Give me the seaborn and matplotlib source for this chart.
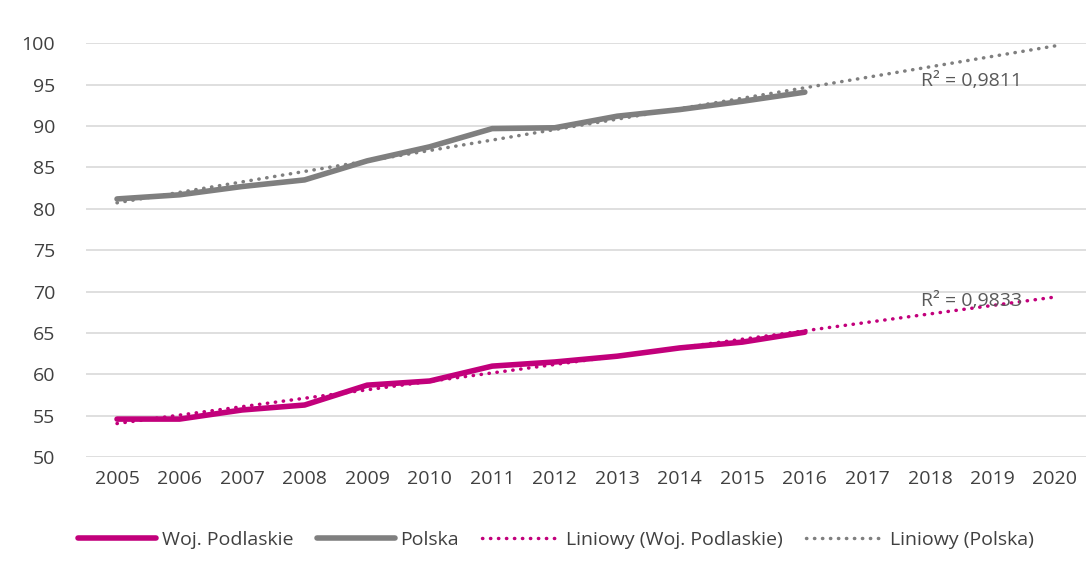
import numpy as np
import pandas as pd
import matplotlib
matplotlib.use("Agg")
import matplotlib.pyplot as plt
import seaborn as sns

years = list(range(2005, 2017))
all_years = list(range(2005, 2021))
podlaskie = [54.6, 54.6, 55.7, 56.3, 58.7, 59.2, 61.0, 61.5, 62.2, 63.2, 63.9, 65.1]
polska = [81.2, 81.7, 82.7, 83.5, 85.8, 87.5, 89.7, 89.8, 91.2, 92.0, 93.0, 94.1]
yticks = list(range(50, 101, 5))
r2_labels = ["R² = 0,9811", "R² = 0,9833"]

magenta = "#C2007B"
grey = "#7F7F7F"

sns.set_theme(style="white")
plt.rcParams['font.family'] = ['Open Sans', 'DejaVu Sans']

fig = plt.figure(figsize=(10.91, 5.63), dpi=100)
ax = fig.add_axes([0.0786, 0.188, 0.917, 0.735])

df = pd.DataFrame({"year": years, "Woj. Podlaskie": podlaskie, "Polska": polska})

def trend(vals):
    c = np.polyfit(years, vals, 1)
    return np.polyval(c, all_years)

tr_pod = trend(podlaskie)
tr_pol = trend(polska)
tdf = pd.DataFrame({"year": all_years, "tp": tr_pod, "tq": tr_pol})

dot = (0, (0.1, 2.2))
sns.lineplot(data=df, x="year", y="Woj. Podlaskie", ax=ax, color=magenta, lw=4, label="Woj. Podlaskie", solid_capstyle="round")
sns.lineplot(data=df, x="year", y="Polska", ax=ax, color=grey, lw=4, label="Polska", solid_capstyle="round")
sns.lineplot(data=tdf, x="year", y="tp", ax=ax, color=magenta, lw=2.5, linestyle=dot, dash_capstyle="round", label="Liniowy (Woj. Podlaskie)")
sns.lineplot(data=tdf, x="year", y="tq", ax=ax, color=grey, lw=2.5, linestyle=dot, dash_capstyle="round", label="Liniowy (Polska)")

ax.set_xlim(2004.5, 2020.5)
ax.set_ylim(50, 100)
ax.set_yticks(yticks)
ax.set_xticks(all_years)
ax.set_xticklabels([str(y) for y in all_years])
ax.tick_params(axis="both", labelsize=14, colors="#404040", length=0)
ax.tick_params(axis="y", pad=22)
ax.tick_params(axis="x", pad=9)
ax.yaxis.grid(True, color="#D9D9D9", lw=1.2)
ax.xaxis.grid(False)
for s in ax.spines.values():
    s.set_visible(False)
ax.set_xlabel("")
ax.set_ylabel("")

ax.text(2017.85, tr_pol[-1] - 4.2, r2_labels[0], fontsize=14, color="#595959", va="center")
ax.text(2017.85, tr_pod[-1] - 0.5, r2_labels[1], fontsize=14, color="#595959", va="center")

ax.legend(loc="upper center", bbox_to_anchor=(0.47, -0.135), ncol=4, frameon=False,
          fontsize=14, handlelength=4.0, columnspacing=1.2, handletextpad=0.3,
          labelcolor="#404040")

fig.savefig("out.png", dpi=100)
